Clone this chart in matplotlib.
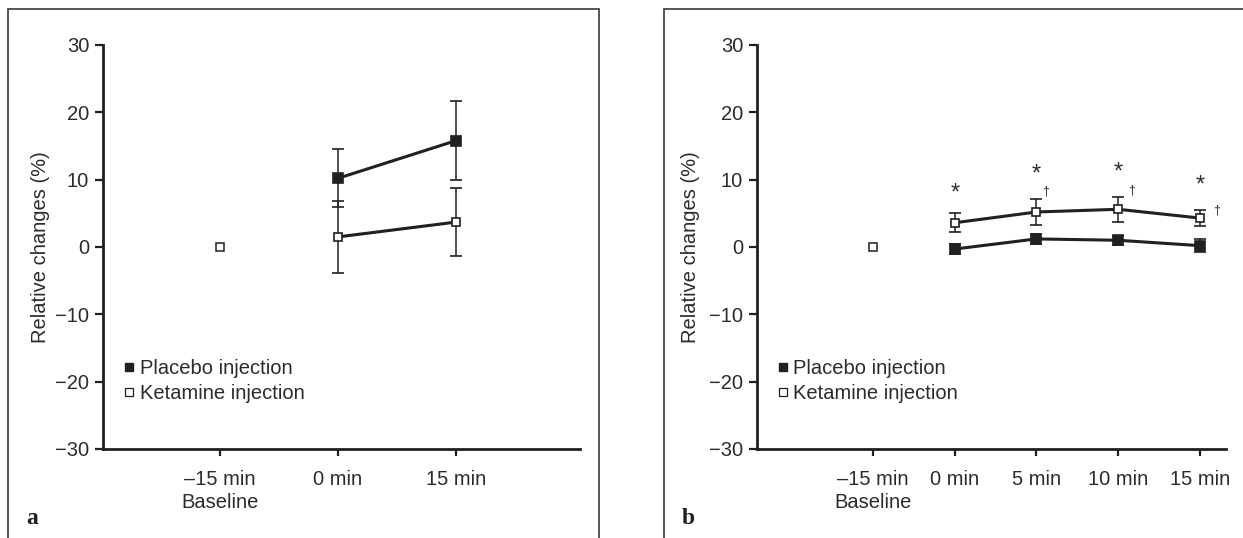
import matplotlib
matplotlib.use("Agg")
import matplotlib.pyplot as plt
from matplotlib.lines import Line2D
from matplotlib.patches import Rectangle

plt.rcParams['font.family'] = ['Liberation Sans', 'DejaVu Sans']

# panel a
labels_a = ['–15 min\nBaseline', '0 min', '15 min']
placebo_a = [10.2, 15.8]
placebo_a_err = [4.3, 5.9]
ketamine_a = [1.5, 3.7]
ketamine_a_err = [5.3, 5.1]

# panel b
labels_b = ['–15 min\nBaseline', '0 min', '5 min', '10 min', '15 min']
placebo_b = [-0.3, 1.2, 1.0, 0.2]
placebo_b_err = [0.7, 0.7, 0.65, 1.0]
ketamine_b = [3.6, 5.2, 5.6, 4.3]
ketamine_b_err = [1.4, 1.9, 1.85, 1.2]
star_y = [8.0, 10.7, 11.0, 9.2]          # * above 0, 5, 10, 15 min
dagger_y = [8.2, 8.4, 5.4]               # dagger at 5, 10, 15 min
dagger_dx = [0.11, 0.17, 0.21]

baseline_value = 0.0

DARK = '#231f20'
TEXT = '#2b2b2b'
FS = 14.5


def draw_panel(ax, labels, placebo, placebo_err, ketamine, ketamine_err, xlim):
    x = list(range(1, len(labels)))
    ax.errorbar(x, placebo, yerr=placebo_err, fmt='-s', color=DARK, lw=2.2,
                ms=7, mfc=DARK, mec=DARK, mew=1.2, ecolor=DARK,
                elinewidth=1.1, capsize=4.2, capthick=1.1, zorder=3)
    ax.errorbar(x, ketamine, yerr=ketamine_err, fmt='-s', color=DARK, lw=2.2,
                ms=6.3, mfc='white', mec=DARK, mew=1.2, ecolor=DARK,
                elinewidth=1.1, capsize=4.2, capthick=1.1, zorder=4)
    # baseline point (not connected)
    ax.plot([0], [baseline_value], 's', ms=6.3, mfc='white', mec=DARK, mew=1.1, zorder=4)

    ax.set_xlim(*xlim)
    ax.set_ylim(-30, 30)
    ax.set_yticks([-30, -20, -10, 0, 10, 20, 30])
    ax.set_xticks(range(len(labels)))
    ax.set_xticklabels(labels, fontsize=FS, color=TEXT, linespacing=1.3)
    for t in ax.get_yticklabels():
        t.set_fontsize(FS)
        t.set_color(TEXT)
    ax.tick_params(axis='y', length=6, width=1.6, pad=4, color=DARK)
    ax.tick_params(axis='x', length=5, width=1.6, pad=10, color=DARK)
    for s in ['top', 'right']:
        ax.spines[s].set_visible(False)
    for s in ['left', 'bottom']:
        ax.spines[s].set_linewidth(2.0)
        ax.spines[s].set_color(DARK)
    ax.set_ylabel('Relative changes (%)', fontsize=FS, color=TEXT)

    handles = [
        Line2D([], [], marker='s', ls='none', ms=5.5, mfc=DARK, mec=DARK, mew=1),
        Line2D([], [], marker='s', ls='none', ms=5.5, mfc='white', mec=DARK, mew=0.9),
    ]
    leg = ax.legend(handles, ['Placebo injection', 'Ketamine injection'],
                    loc='upper left', bbox_to_anchor=(0.045, 0.222),
                    frameon=False, fontsize=FS, borderpad=0, borderaxespad=0,
                    handlelength=0.5, handletextpad=0.25, labelspacing=0.3)
    for t in leg.get_texts():
        t.set_color(TEXT)


fig = plt.figure(figsize=(12.43, 5.38), dpi=100)

ax_a = fig.add_axes([103 / 1243, 1 - 449 / 538, 477 / 1243, 404 / 538])
draw_panel(ax_a, labels_a, placebo_a, placebo_a_err, ketamine_a, ketamine_a_err,
           (-0.99, 3.05))
ax_a.yaxis.set_label_coords(-0.112, 0.5)

ax_b = fig.add_axes([757 / 1243, 1 - 449 / 538, 469 / 1243, 404 / 538])
draw_panel(ax_b, labels_b, placebo_b, placebo_b_err, ketamine_b, ketamine_b_err,
           (-1.42, 4.32))
ax_b.yaxis.set_label_coords(-0.122, 0.5)

# significance markers
for i, yv in enumerate(star_y):
    ax_b.text(i + 1, yv, '*', ha='center', va='center', fontsize=17, color=TEXT)
for i, yv in enumerate(dagger_y):
    ax_b.text(i + 2 + dagger_dx[i], yv, '†', ha='center', va='center',
              fontsize=9, color=TEXT)

# panel frames
fig.add_artist(Rectangle((8 / 1243, -0.05), (599 - 8) / 1243, 1.05 - 9 / 538,
                         transform=fig.transFigure, fill=False, lw=1.2,
                         edgecolor='#3a3a3a'))
fig.add_artist(Rectangle((664 / 1243, -0.05), 0.5, 1.05 - 9 / 538,
                         transform=fig.transFigure, fill=False, lw=1.2,
                         edgecolor='#3a3a3a'))

fig.text(32 / 1243, 1 - 519 / 538, 'a', ha='center', va='center', fontsize=17,
         fontweight='bold', family=['Liberation Serif', 'DejaVu Serif'], color=DARK)
fig.text(688 / 1243, 1 - 519 / 538, 'b', ha='center', va='center', fontsize=17,
         fontweight='bold', family=['Liberation Serif', 'DejaVu Serif'], color=DARK)

fig.savefig('out.png', dpi=100)
